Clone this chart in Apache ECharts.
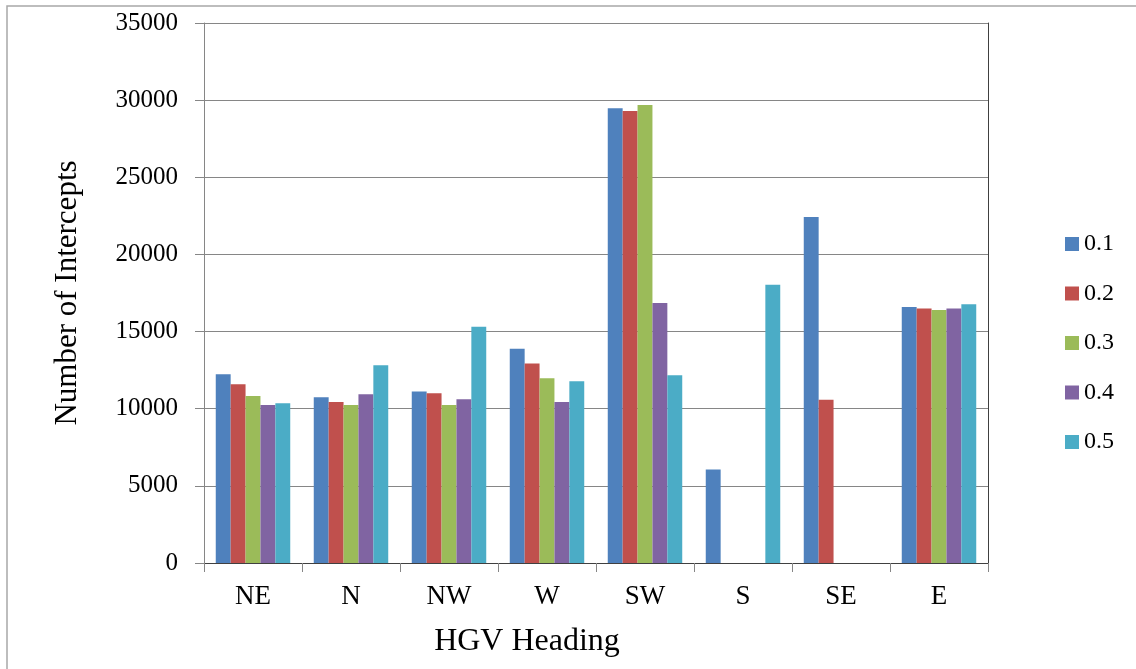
<!DOCTYPE html>
<html>
<head>
<meta charset="utf-8">
<script src="https://cdn.jsdelivr.net/npm/echarts@6/dist/echarts.min.js"></script>
<style>html,body{margin:0;padding:0;background:#fff;}#c{width:1136px;height:669px;}</style>
</head>
<body>
<div id="c"></div>
<script>
const categories = ['NE', 'N', 'NW', 'W', 'SW', 'S', 'SE', 'E'];
const seriesNames = ['0.1', '0.2', '0.3', '0.4', '0.5'];
const s01 = [12240, 10740, 11110, 13880, 29480, 6060, 22420, 16600];
const s02 = [11590, 10440, 11000, 12930, 29300, 0, 10580, 16490];
const s03 = [10830, 10240, 10240, 11980, 29690, 0, 0, 16400];
const s04 = [10240, 10940, 10610, 10440, 16850, 0, 0, 16490];
const s05 = [10350, 12820, 15310, 11780, 12170, 18030, 0, 16770];
const yTicks = [0, 5000, 10000, 15000, 20000, 25000, 30000, 35000];

const colors = ['#4F81BD', '#C0504D', '#9BBB59', '#8064A2', '#4BACC6'];
const allData = [s01, s02, s03, s04, s05];
const font = 'Liberation Serif';

const chart = echarts.init(document.getElementById('c'));
chart.setOption({
  animation: false,
  backgroundColor: '#fff',
  color: colors,
  graphic: [{
    type: 'rect', z: -10,
    shape: { x: 7, y: 6, width: 1200, height: 800 },
    style: { fill: 'none', stroke: '#a8a8a8', lineWidth: 1.5 }
  }],
  grid: { left: 204, right: 148, top: 23, bottom: 106 },
  legend: {
    orient: 'vertical', left: 1060, top: 227,
    itemWidth: 14, itemHeight: 14, itemGap: 25.5,
    icon: 'rect',
    textStyle: { fontFamily: font, fontSize: 24, color: '#000' },
    data: seriesNames
  },
  xAxis: [{
    type: 'category', data: categories,
    axisLine: { lineStyle: { color: '#868686', width: 1 } },
    axisTick: { show: true, length: 9, lineStyle: { color: '#868686' } },
    axisLabel: { fontFamily: font, fontSize: 27, color: '#000', margin: 20 },
    name: 'HGV Heading', nameLocation: 'middle', nameGap: 63,
    nameTextStyle: { fontFamily: font, fontSize: 32, color: '#000', padding: [0, 138, 0, 0] }
  }, {
    type: 'category', data: categories, position: 'top',
    axisLine: { show: true, lineStyle: { color: '#404040', width: 1 } },
    axisTick: { show: false }, axisLabel: { show: false }
  }],
  yAxis: [{
    type: 'value', min: 0, max: 35000, interval: 5000,
    axisLine: { show: true, lineStyle: { color: '#868686', width: 1 } },
    axisTick: { show: true, length: 9, lineStyle: { color: '#868686' } },
    splitLine: { show: true, lineStyle: { color: '#868686', width: 1 } },
    axisLabel: { fontFamily: font, fontSize: 25, color: '#000', margin: 26,
      formatter: v => yTicks.includes(v) ? String(v) : '' },
    name: 'Number of Intercepts', nameLocation: 'middle', nameGap: 121,
    nameTextStyle: { fontFamily: font, fontSize: 31, color: '#000' }
  }, {
    type: 'value', min: 0, max: 35000, interval: 5000, position: 'right',
    axisLine: { show: true, lineStyle: { color: '#404040', width: 1 } },
    axisTick: { show: false }, axisLabel: { show: false }, splitLine: { show: false }
  }],
  series: seriesNames.map((n, i) => ({
    name: n, type: 'bar', data: allData[i],
    barGap: '0%', barCategoryGap: '24%',
    itemStyle: { color: colors[i] }
  }))
});
</script>
</body>
</html>
